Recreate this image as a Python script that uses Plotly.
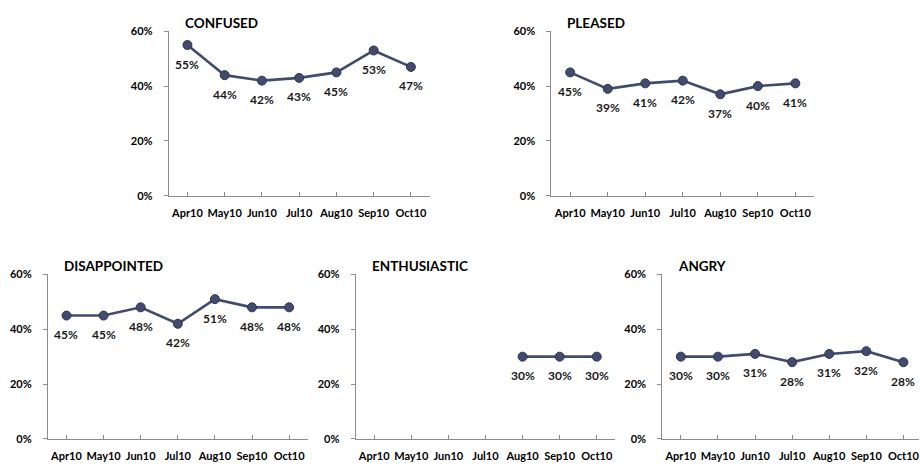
import plotly.graph_objects as go

months = ["Apr10", "May10", "Jun10", "Jul10", "Aug10", "Sep10", "Oct10"]
y_ticks = [0, 0.2, 0.4, 0.6]

confused = [0.55, 0.44, 0.42, 0.43, 0.45, 0.53, 0.47]
pleased = [0.45, 0.39, 0.41, 0.42, 0.37, 0.40, 0.41]
disappointed = [0.45, 0.45, 0.48, 0.42, 0.51, 0.48, 0.48]
enthusiastic = [None, None, None, None, 0.30, 0.30, 0.30]
angry = [0.30, 0.30, 0.31, 0.28, 0.31, 0.32, 0.28]

W, H = 920, 475
LINE = "#404B6E"
AXIS = "#8C8C8C"
FONT = "Lato"

# panel title, values, plot box in pixels (left, right, top, bottom)
panels = [
    ("CONFUSED", confused, (169, 430, 25, 194)),
    ("PLEASED", pleased, (552, 815, 25, 194)),
    ("DISAPPOINTED", disappointed, (48, 308, 275, 444)),
    ("ENTHUSIASTIC", enthusiastic, (356, 616, 275, 444)),
    ("ANGRY", angry, (663, 923, 275, 444)),
]

fig = go.Figure()
annotations = []

for i, (title, vals, (l, r, t, b)) in enumerate(panels, start=1):
    xa = "x" if i == 1 else f"x{i}"
    ya = "y" if i == 1 else f"y{i}"
    right = min(r, W)
    cat_w = (r - l) / len(months)
    xmax = -0.5 + (right - l) / cat_w

    fig.add_trace(go.Scatter(
        x=list(range(len(months))), y=vals, mode="lines+markers",
        xaxis=xa, yaxis=ya, showlegend=False, connectgaps=False,
        line=dict(color=LINE, width=2.6),
        marker=dict(size=9, color=LINE, line=dict(color="#2C3550", width=1)),
        hoverinfo="skip",
    ))

    for j, v in enumerate(vals):
        if v is None:
            continue
        annotations.append(dict(
            x=j, y=v, xref=xa, yref=ya, text=f"{round(v * 100)}%",
            showarrow=False, yshift=-19,
            font=dict(family=FONT, size=12, color="#1a1a1a", weight="bold"),
        ))

    annotations.append(dict(
        x=(l + 14) / W, y=1 - (t - 9) / H, xref="paper", yref="paper",
        text=title, showarrow=False, xanchor="left", yanchor="middle",
        font=dict(family=FONT, size=13.5, color="#000000", weight="bold"),
    ))

    fig.layout[("xaxis" if i == 1 else f"xaxis{i}")] = dict(
        domain=[l / W, right / W], anchor=ya,
        range=[-0.5, xmax],
        tickmode="array", tickvals=list(range(len(months))), ticktext=months,
        tickson="boundaries", ticks="inside", ticklen=4, tickcolor=AXIS,
        showline=True, linecolor=AXIS, linewidth=1,
        showgrid=False, zeroline=False, fixedrange=True,
        tickfont=dict(family=FONT, size=11, color="#000000", weight="bold"),
        ticklabelstandoff=7, ticklabeloverflow="allow",
    )
    fig.layout[("yaxis" if i == 1 else f"yaxis{i}")] = dict(
        domain=[1 - b / H, 1 - t / H], anchor=xa,
        range=[0, 0.6], tickvals=y_ticks, tickformat=".0%",
        ticks="outside", ticklen=4, tickcolor=AXIS,
        showline=True, linecolor=AXIS, linewidth=1,
        showgrid=False, zeroline=False, fixedrange=True,
        tickfont=dict(family=FONT, size=11, color="#000000", weight="bold"),
        ticklabelstandoff=9,
    )

fig.update_layout(
    width=W, height=H,
    margin=dict(l=0, r=0, t=0, b=0),
    paper_bgcolor="white", plot_bgcolor="white",
    annotations=annotations,
)

fig.write_html("out.html", config={"displayModeBar": False})
